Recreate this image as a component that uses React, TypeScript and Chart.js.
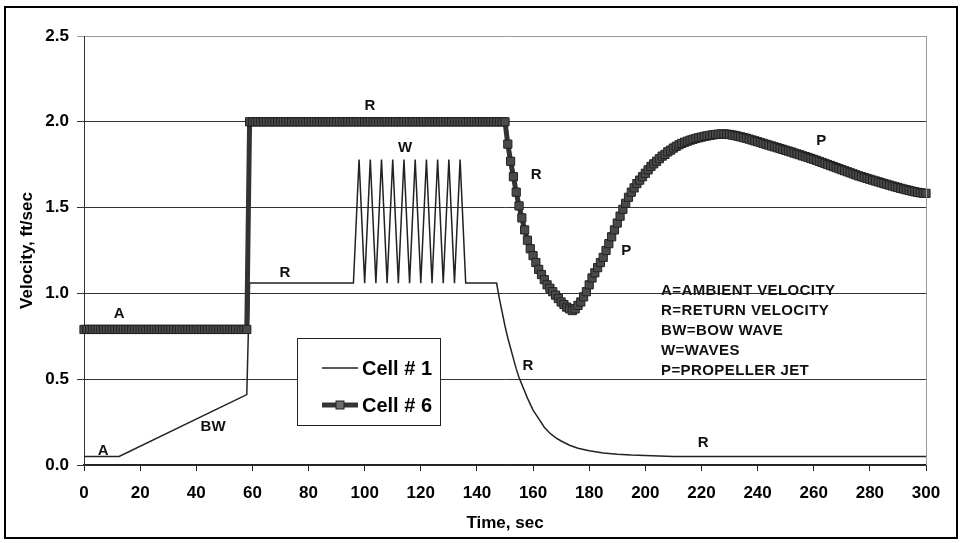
import { useEffect, useRef } from "react";
import { Chart, registerables } from "chart.js";

Chart.register(...registerables);

const FONT = "'Liberation Sans', Arial, Helvetica, sans-serif";

// Cell # 1: time (s) and velocity (ft/s) at each break point
const cell1Time = [
  0, 12.5, 58, 59, 96,
  98, 100, 102, 104, 106, 108, 110, 112, 114, 116, 118,
  120, 122, 124, 126, 128, 130, 132, 134, 136,
  147, 148, 149, 150, 151, 152, 153, 154, 155, 156, 157, 158,
  160, 162, 164, 166, 168, 170, 173, 176, 180, 185, 190, 195, 200, 205, 210, 300,
];
const cell1Velocity = [
  0.05, 0.05, 0.41, 1.06, 1.06,
  1.78, 1.06, 1.78, 1.06, 1.78, 1.06, 1.78, 1.06, 1.78, 1.06, 1.78,
  1.06, 1.78, 1.06, 1.78, 1.06, 1.78, 1.06, 1.78, 1.06,
  1.06, 0.97, 0.89, 0.81, 0.74, 0.68, 0.62, 0.56, 0.51, 0.47, 0.43, 0.39,
  0.32, 0.27, 0.22, 0.185, 0.16, 0.14, 0.115, 0.098, 0.083, 0.07, 0.063, 0.058, 0.055, 0.052, 0.05, 0.05,
];

// Cell # 6: velocity (ft/s) logged once per second, t = 0 … 300 s
const CELL6_STEP_SEC = 1;
const cell6Velocity = [
  // 0 – 58 s
  0.79, 0.79, 0.79, 0.79, 0.79, 0.79, 0.79, 0.79, 0.79, 0.79,
  0.79, 0.79, 0.79, 0.79, 0.79, 0.79, 0.79, 0.79, 0.79, 0.79,
  0.79, 0.79, 0.79, 0.79, 0.79, 0.79, 0.79, 0.79, 0.79, 0.79,
  0.79, 0.79, 0.79, 0.79, 0.79, 0.79, 0.79, 0.79, 0.79, 0.79,
  0.79, 0.79, 0.79, 0.79, 0.79, 0.79, 0.79, 0.79, 0.79, 0.79,
  0.79, 0.79, 0.79, 0.79, 0.79, 0.79, 0.79, 0.79, 0.79,
  // 59 – 150 s
  2.0, 2.0, 2.0, 2.0, 2.0, 2.0, 2.0, 2.0, 2.0, 2.0,
  2.0, 2.0, 2.0, 2.0, 2.0, 2.0, 2.0, 2.0, 2.0, 2.0,
  2.0, 2.0, 2.0, 2.0, 2.0, 2.0, 2.0, 2.0, 2.0, 2.0,
  2.0, 2.0, 2.0, 2.0, 2.0, 2.0, 2.0, 2.0, 2.0, 2.0,
  2.0, 2.0, 2.0, 2.0, 2.0, 2.0, 2.0, 2.0, 2.0, 2.0,
  2.0, 2.0, 2.0, 2.0, 2.0, 2.0, 2.0, 2.0, 2.0, 2.0,
  2.0, 2.0, 2.0, 2.0, 2.0, 2.0, 2.0, 2.0, 2.0, 2.0,
  2.0, 2.0, 2.0, 2.0, 2.0, 2.0, 2.0, 2.0, 2.0, 2.0,
  2.0, 2.0, 2.0, 2.0, 2.0, 2.0, 2.0, 2.0, 2.0, 2.0,
  2.0, 2.0,
  // 151 – 174 s
  1.87, 1.77, 1.68, 1.59, 1.51, 1.44, 1.37, 1.31, 1.26, 1.22,
  1.18, 1.14, 1.11, 1.08, 1.05, 1.03, 1.01, 0.99, 0.97, 0.95,
  0.935, 0.92, 0.91, 0.9,
  // 175 – 200 s
  0.91, 0.93, 0.95, 0.98, 1.01, 1.05, 1.09, 1.12, 1.15, 1.18,
  1.21, 1.25, 1.29, 1.33, 1.37, 1.41, 1.45, 1.49, 1.525, 1.56,
  1.59, 1.615, 1.64, 1.66, 1.68, 1.7,
  // 201 – 230 s
  1.72, 1.74, 1.755, 1.77, 1.785, 1.8, 1.81, 1.825, 1.835, 1.847,
  1.857, 1.866, 1.874, 1.881, 1.887, 1.893, 1.898, 1.903, 1.907, 1.911,
  1.915, 1.918, 1.921, 1.924, 1.926, 1.928, 1.929, 1.929, 1.928, 1.926,
  // 231 – 300 s
  1.923, 1.92, 1.916, 1.912, 1.908, 1.904, 1.899, 1.894, 1.889, 1.884,
  1.879, 1.874, 1.869, 1.864, 1.859, 1.854, 1.849, 1.844, 1.839, 1.834,
  1.829, 1.824, 1.818, 1.813, 1.808, 1.802, 1.797, 1.792, 1.786, 1.781,
  1.775, 1.769, 1.763, 1.757, 1.751, 1.745, 1.739, 1.733, 1.727, 1.721,
  1.715, 1.709, 1.703, 1.697, 1.691, 1.685, 1.68, 1.675, 1.67, 1.665,
  1.66, 1.655, 1.65, 1.645, 1.64, 1.636, 1.631, 1.626, 1.621, 1.617,
  1.612, 1.608, 1.604, 1.6, 1.596, 1.592, 1.589, 1.586, 1.584, 1.583,
];

// Axis ranges
const timeRange = [0, 300];
const timeStep = 20;
const velocityRange = [0, 2.5];
const velocityStep = 0.5;

// Phase letters placed on the curves: text, time (s), velocity (ft/s)
const phaseText = ["A", "A", "BW", "R", "R", "W", "R", "R", "R", "P", "P"];
const phaseTime = [12.5, 6.8, 46, 71.6, 101.9, 114.4, 161.1, 158.2, 220.6, 193.2, 262.7];
const phaseVelocity = [0.88, 0.08, 0.22, 1.12, 2.09, 1.85, 1.69, 0.58, 0.13, 1.25, 1.89];

// Key to the phase letters
const keyLines = [
  "A=AMBIENT VELOCITY",
  "R=RETURN VELOCITY",
  "BW=BOW WAVE",
  "W=WAVES",
  "P=PROPELLER JET",
];
const keyAnchorTime = 205.6;
const keyAnchorVelocity = 1.016;

const seriesNames = ["Cell # 1", "Cell # 6"];

const LINE1 = "#222222";
const LINE6 = "#333333";
const MARK_FILL = "#4a4a4a";
const MARK_EDGE = "#222222";

const cell1Points = cell1Time.map((t, i) => ({ x: t, y: cell1Velocity[i] }));
const cell6Points = cell6Velocity.map((v, i) => ({ x: i * CELL6_STEP_SEC, y: v }));

const decorPlugin = {
  id: "decor",
  beforeDraw(chart: any) {
    const { ctx, width, height } = chart;
    ctx.save();
    ctx.fillStyle = "#ffffff";
    ctx.fillRect(0, 0, width, height);
    ctx.restore();
  },
  afterDraw(chart: any) {
    const { ctx, chartArea } = chart;
    const xs = chart.scales.x;
    const ys = chart.scales.y;
    ctx.save();

    // right edge of the plot area
    ctx.strokeStyle = "#9a9a9a";
    ctx.lineWidth = 1;
    ctx.beginPath();
    ctx.moveTo(Math.round(chartArea.right) + 0.5, chartArea.top);
    ctx.lineTo(Math.round(chartArea.right) + 0.5, chartArea.bottom);
    ctx.stroke();

    // phase letters
    ctx.fillStyle = "#111111";
    ctx.font = `bold 15px ${FONT}`;
    ctx.textAlign = "center";
    ctx.textBaseline = "middle";
    phaseText.forEach((txt, i) => {
      ctx.fillText(txt, xs.getPixelForValue(phaseTime[i]), ys.getPixelForValue(phaseVelocity[i]));
    });

    // key text block
    ctx.textAlign = "left";
    ctx.font = `bold 15px ${FONT}`;
    (ctx as any).letterSpacing = "0.4px";
    const kx = xs.getPixelForValue(keyAnchorTime);
    const ky = ys.getPixelForValue(keyAnchorVelocity);
    keyLines.forEach((line, i) => ctx.fillText(line, kx, ky + i * 20));
    (ctx as any).letterSpacing = "0px";

    // legend box
    const lx = 297;
    const ly = 338;
    const lw = 143;
    const lh = 87;
    ctx.fillStyle = "#ffffff";
    ctx.fillRect(lx, ly, lw, lh);
    ctx.strokeStyle = "#222222";
    ctx.lineWidth = 1;
    ctx.strokeRect(lx + 0.5, ly + 0.5, lw, lh);

    const rowY = [ly + 30, ly + 67];
    const sx0 = lx + 25;
    const sx1 = lx + 61;
    // Cell # 1 sample
    ctx.strokeStyle = LINE1;
    ctx.lineWidth = 1.5;
    ctx.beginPath();
    ctx.moveTo(sx0, rowY[0]);
    ctx.lineTo(sx1, rowY[0]);
    ctx.stroke();
    // Cell # 6 sample
    ctx.strokeStyle = LINE6;
    ctx.lineWidth = 5;
    ctx.beginPath();
    ctx.moveTo(sx0, rowY[1]);
    ctx.lineTo(sx1, rowY[1]);
    ctx.stroke();
    const mx = (sx0 + sx1) / 2;
    ctx.fillStyle = "#6e6e6e";
    ctx.fillRect(mx - 4, rowY[1] - 4, 8, 8);
    ctx.strokeStyle = MARK_EDGE;
    ctx.lineWidth = 1;
    ctx.strokeRect(mx - 4, rowY[1] - 4, 8, 8);

    ctx.fillStyle = "#000000";
    ctx.font = `bold 20px ${FONT}`;
    ctx.textAlign = "left";
    ctx.textBaseline = "middle";
    ctx.fillText(seriesNames[0], sx1 + 4, rowY[0] + 1);
    ctx.fillText(seriesNames[1], sx1 + 4, rowY[1] + 1);

    // axis titles
    ctx.font = `bold 17px ${FONT}`;
    ctx.textAlign = "center";
    ctx.fillText("Time, sec", (chartArea.left + chartArea.right) / 2, 523);
    ctx.save();
    ctx.translate(27, (chartArea.top + chartArea.bottom) / 2);
    ctx.rotate(-Math.PI / 2);
    ctx.fillText("Velocity, ft/sec", 0, 0);
    ctx.restore();

    // outer frame
    ctx.strokeStyle = "#000000";
    ctx.lineWidth = 2;
    ctx.strokeRect(5, 7, 952, 531);

    ctx.restore();
  },
};

export default function App() {
  const ref = useRef<HTMLCanvasElement>(null);

  useEffect(() => {
    const canvas = ref.current;
    if (!canvas) return;
    const chart = new Chart(canvas, {
      type: "line",
      data: {
        datasets: [
          {
            label: seriesNames[1],
            data: cell6Points,
            borderColor: LINE6,
            borderWidth: 5,
            pointStyle: "rect",
            pointRadius: 5.8,
            pointBackgroundColor: MARK_FILL,
            pointBorderColor: MARK_EDGE,
            pointBorderWidth: 1,
            tension: 0,
            clip: false,
          } as any,
          {
            label: seriesNames[0],
            data: cell1Points,
            borderColor: LINE1,
            borderWidth: 1.5,
            pointRadius: 0,
            tension: 0,
            clip: false,
          } as any,
        ],
      },
      options: {
        responsive: false,
        animation: false,
        parsing: false as any,
        normalized: true,
        layout: { padding: { left: 0, top: 36, right: 34, bottom: 0 } },
        plugins: {
          legend: { display: false },
          tooltip: { enabled: false },
          title: { display: false },
        },
        scales: {
          x: {
            type: "linear",
            min: timeRange[0],
            max: timeRange[1],
            afterFit: (s: any) => {
              s.height = 78;
            },
            ticks: {
              stepSize: timeStep,
              color: "#000000",
              padding: 12,
              maxRotation: 0,
              autoSkip: false,
              font: { family: FONT, size: 17, weight: "bold" },
            },
            grid: {
              display: true,
              drawOnChartArea: false,
              drawTicks: true,
              tickLength: 6,
              color: "#222222",
            },
            border: { display: true, color: "#222222", width: 1.5 },
          },
          y: {
            type: "linear",
            min: velocityRange[0],
            max: velocityRange[1],
            afterFit: (s: any) => {
              s.width = 84;
            },
            ticks: {
              stepSize: velocityStep,
              color: "#000000",
              padding: 8,
              font: { family: FONT, size: 17, weight: "bold" },
              callback: (v: any) => Number(v).toFixed(1),
            },
            grid: {
              display: true,
              drawTicks: true,
              tickLength: 7,
              color: (c: any) => (c.tick && c.tick.value >= velocityRange[1] ? "#9a9a9a" : "#333333"),
            },
            border: { display: true, color: "#333333", width: 1 },
          },
        },
      },
      plugins: [decorPlugin],
    });
    return () => chart.destroy();
  }, []);

  return (
    <div style={{ position: "absolute", left: 0, top: 0, width: 960, height: 543, background: "#fff" }}>
      <canvas ref={ref} width={960} height={543} style={{ display: "block", width: 960, height: 543 }} />
    </div>
  );
}
